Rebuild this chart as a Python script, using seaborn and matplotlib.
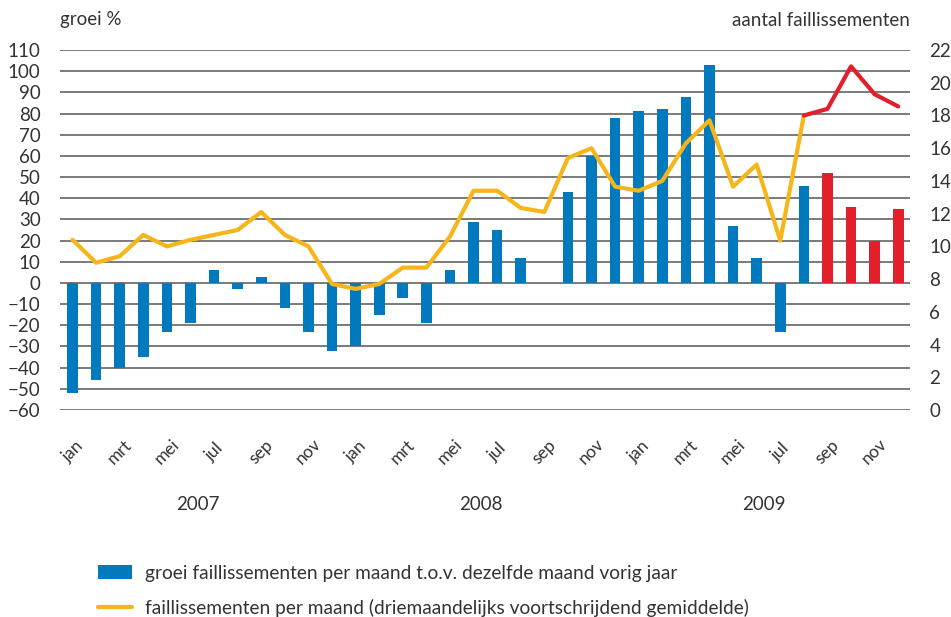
import matplotlib
matplotlib.use("Agg")
import matplotlib.pyplot as plt
import matplotlib.transforms as mtransforms
from matplotlib.lines import Line2D
from matplotlib.patches import Patch
import numpy as np
import pandas as pd
import seaborn as sns

# maanden jan 2007 - dec 2009
months = ["jan", "feb", "mrt", "apr", "mei", "jun",
          "jul", "aug", "sep", "okt", "nov", "dec"] * 3
years = ["2007", "2008", "2009"]

# groei faillissementen t.o.v. zelfde maand vorig jaar (%)
growth = [-52, -46, -40, -35, -23, -19, 6, -3, 3, -12, -23, -32,
          -30, -15, -7, -19, 6, 29, 25, 12, 0, 43, 60, 78,
          81, 82, 88, 103, 27, 12, -23, 46, 52, 36, 20, 35]
# bars vanaf sep 2009 in rood
bar_group = ["real"] * 32 + ["recent"] * 4

# faillissementen per maand (3-maands voortschrijdend gemiddelde)
avg_yellow = [10.4, 9.0, 9.4, 10.7, 10.0, 10.4, 10.7, 11.0, 12.1, 10.7, 10.0, 7.7,
              7.4, 7.7, 8.7, 8.7, 10.6, 13.4, 13.4, 12.35, 12.1, 15.4, 16.0, 13.65,
              13.4, 14.0, 16.3, 17.7, 13.65, 15.0, 10.35, 18.0]
avg_red = [18.0, 18.4, 21.0, 19.3, 18.55]

c_blue = "#0079be"
c_yellow = "#f6b519"
c_red = "#e2202b"
c_text = "#333333"
c_grid = "#6f6f6f"

sns.set_style("white")
plt.rcParams["font.family"] = ["Lato", "DejaVu Sans"]
plt.rcParams["text.color"] = c_text

fig = plt.figure(figsize=(9.51, 6.17), dpi=100)
ax = fig.add_axes([60 / 951, 1 - 410 / 617, 850 / 951, 360 / 617])

bars = pd.DataFrame({"pos": range(len(growth)), "growth": growth, "group": bar_group})
sns.barplot(data=bars, x="pos", y="growth", hue="group",
            palette={"real": c_blue, "recent": c_red}, dodge=False,
            width=0.45, saturation=1, legend=False, linewidth=0, ax=ax, zorder=3)

ax.set_ylim(-60, 110)
ax.set_xlim(-0.53, 35.5)
ax.set_yticks(np.arange(-60, 111, 10))
ax.yaxis.grid(True, color=c_grid, linewidth=1.3, zorder=0)
ax.set_axisbelow(True)
for s in ax.spines.values():
    s.set_visible(False)
ax.set_xlabel("")
ax.set_ylabel("")
ax.tick_params(axis="y", length=0, pad=14, labelsize=13.5, labelcolor=c_text)

# x-as: om de maand een label
xt = list(range(0, 36, 2))
ax.set_xticks(xt)
ax.set_xticklabels([months[i] for i in xt], rotation=45, ha="center", va="center")
ax.tick_params(axis="x", length=0, pad=30, labelsize=12.5, labelcolor=c_text)

trans = mtransforms.blended_transform_factory(ax.transData, fig.transFigure)
for i, yr in enumerate(years):
    fig.text(12 * i + 5.3, 1 - 505 / 617, yr, transform=trans, ha="center",
             va="center", fontsize=13.5, color=c_text)

ax2 = ax.twinx()
ax2.set_ylim(0, 22)
ax2.set_yticks(range(0, 23, 2))
for s in ax2.spines.values():
    s.set_visible(False)
ax2.tick_params(axis="y", length=0, pad=14, labelsize=13.5, labelcolor=c_text)
line_y = pd.DataFrame({"x": range(len(avg_yellow)), "v": avg_yellow})
line_r = pd.DataFrame({"x": range(31, 31 + len(avg_red)), "v": avg_red})
sns.lineplot(data=line_y, x="x", y="v", color=c_yellow, linewidth=3, ax=ax2, zorder=4)
sns.lineplot(data=line_r, x="x", y="v", color=c_red, linewidth=3, ax=ax2, zorder=4)
ax2.set_xlabel("")
ax2.set_ylabel("")
ax2.set_xlim(-0.53, 35.5)

fig.text(60 / 951, 1 - 20 / 617, "groei %", ha="left", va="center", fontsize=13.5)
fig.text(910 / 951, 1 - 20 / 617, "aantal faillissementen", ha="right", va="center",
         fontsize=13.5)

handles = [Patch(facecolor=c_blue, edgecolor="none"),
           Line2D([0], [0], color=c_yellow, linewidth=3)]
labels = ["groei faillissementen per maand t.o.v. dezelfde maand vorig jaar",
          "faillissementen per maand (driemaandelijks voortschrijdend gemiddelde)"]
fig.legend(handles, labels, loc="upper left", bbox_to_anchor=(98 / 951, 1 - 565 / 617),
           frameon=False, fontsize=13.8, handlelength=1.75, handleheight=0.75,
           handletextpad=0.7, labelspacing=0.86, borderpad=0, borderaxespad=0,
           labelcolor=c_text)

fig.savefig("out.png", dpi=100)
